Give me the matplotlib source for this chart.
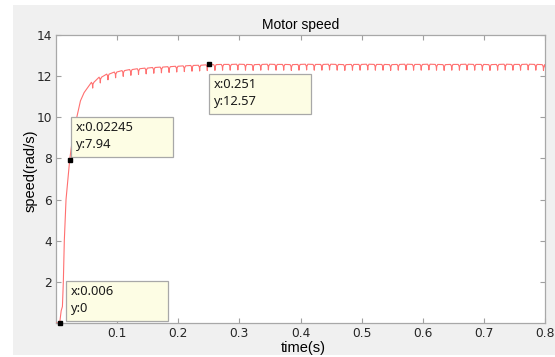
import matplotlib.pyplot as plt
from matplotlib.patches import Rectangle


# start-up part of the speed curve
rise_time = [0.0, 0.006, 0.0085, 0.0105, 0.012, 0.0136, 0.0164, 0.0195,
             0.02245, 0.028, 0.034, 0.040, 0.046, 0.052]
rise_speed = [0.0, 0.0, 0.6, 0.8, 2.0, 4.0, 6.0, 7.0,
              7.94, 9.2, 10.0, 10.8, 11.2, 11.45]

# torque ripple: time of each dip and the speed level around it
dip_time = [0.060, 0.0725, 0.085, 0.0975, 0.110, 0.1225, 0.135, 0.1475,
            0.160, 0.1725, 0.185, 0.1975, 0.210, 0.2225, 0.235, 0.2475,
            0.260, 0.2725, 0.285, 0.2975, 0.310, 0.3225, 0.335, 0.3475,
            0.360, 0.3725, 0.385, 0.3975, 0.410, 0.4225, 0.435, 0.4475,
            0.460, 0.4725, 0.485, 0.4975, 0.510, 0.5225, 0.535, 0.5475,
            0.560, 0.5725, 0.585, 0.5975, 0.610, 0.6225, 0.635, 0.6475,
            0.660, 0.6725, 0.685, 0.6975, 0.710, 0.7225, 0.735, 0.7475,
            0.760, 0.7725, 0.785, 0.7975]
dip_top = [11.70, 11.95, 12.10, 12.20, 12.27, 12.32, 12.36, 12.39,
           12.42, 12.44, 12.46, 12.48, 12.50, 12.52, 12.53, 12.55,
           12.56, 12.57, 12.57, 12.58, 12.57, 12.56, 12.57, 12.58,
           12.57, 12.57, 12.56, 12.57, 12.58, 12.57, 12.57, 12.58,
           12.57, 12.56, 12.57, 12.57, 12.58, 12.57, 12.57, 12.56,
           12.57, 12.58, 12.57, 12.57, 12.58, 12.57, 12.56, 12.57,
           12.57, 12.58, 12.57, 12.57, 12.56, 12.57, 12.58, 12.57,
           12.57, 12.58, 12.57, 12.56]
dip_depth = 0.28

end_time = 0.8
end_speed = 12.45

# data tips shown on the plot
tip_x = [0.006, 0.02245, 0.251]
tip_y = [0.0, 7.94, 12.57]
tip_labels = [("x:0.006", "y:0"), ("x:0.02245", "y:7.94"), ("x:0.251", "y:12.57")]

x_ticks = [0.1, 0.2, 0.3, 0.4, 0.5, 0.6, 0.7, 0.8]
y_ticks = [2, 4, 6, 8, 10, 12, 14]


def build_curve():
    t = list(rise_time)
    v = list(rise_speed)
    for td, top in zip(dip_time, dip_top):
        t += [td - 0.002, td - 0.0004, td, td + 0.0004, td + 0.002]
        v += [top, top - 0.1, top - dip_depth, top - 0.1, top]
    t.append(end_time)
    v.append(end_speed)
    return t, v


def draw_tips(ax):
    # lower-left corner of each tip box, data units
    box_x = [0.0164, 0.0245, 0.2504]
    box_y = [0.10, 8.07, 10.16]
    box_w = 0.167
    box_h = 1.92

    for bx, by, (line1, line2) in zip(box_x, box_y, tip_labels):
        ax.add_patch(Rectangle((bx, by), box_w, box_h, facecolor="#fdfde4",
                               edgecolor="#a8a8a8", linewidth=0.9, zorder=4))
        top = by + box_h
        ax.text(bx + 0.0075, top - 0.68, line1, fontsize=9.3, family="Noto Sans",
                va="baseline", ha="left", color="#1a1a1a", zorder=5)
        ax.text(bx + 0.0075, top - 1.47, line2, fontsize=9.3, family="Noto Sans",
                va="baseline", ha="left", color="#1a1a1a", zorder=5)

    ax.plot(tip_x, tip_y, linestyle="none", marker="s", markersize=3.2,
            color="black", zorder=6, clip_on=False)


def main():
    fig = plt.figure(figsize=(5.55, 3.57), dpi=100, facecolor="white")
    fig.patches.append(Rectangle((13 / 555, 2 / 357), 1 - 13 / 555, 350 / 357,
                                 transform=fig.transFigure, facecolor="#f0f0f0",
                                 edgecolor="none", zorder=-10))

    ax = fig.add_axes([56 / 555, 34 / 357, 489 / 555, 288 / 357])
    ax.set_facecolor("white")

    t, v = build_curve()
    ax.plot(t, v, color="#ff7070", linewidth=0.8, zorder=3)

    draw_tips(ax)

    ax.set_xlim(0, 0.8)
    ax.set_ylim(0, 14)
    ax.set_xticks(x_ticks)
    ax.set_yticks(y_ticks)
    ax.set_xticklabels([f"{x:g}" for x in x_ticks])
    ax.set_yticklabels([str(y) for y in y_ticks])

    ax.tick_params(direction="in", top=True, right=True, length=3.5,
                   width=0.8, color="#a0a0a0", labelcolor="#262626",
                   labelsize=8.8, pad=3)
    for label in ax.get_xticklabels() + ax.get_yticklabels():
        label.set_family("DejaVu Sans")
    for spine in ax.spines.values():
        spine.set_color("#a8a8a8")
        spine.set_linewidth(0.9)

    ax.set_title("Motor speed", fontsize=10, family="Liberation Sans", pad=4)
    ax.set_xlabel("time(s)", fontsize=10.5, family="Liberation Sans")
    ax.set_ylabel("speed(rad/s)", fontsize=10.5, family="Liberation Sans")
    ax.xaxis.set_label_coords(0.506, -0.063)
    ax.yaxis.set_label_coords(-0.037, 0.53)

    fig.savefig("out.png", dpi=100, facecolor=fig.get_facecolor())
    plt.close(fig)


if __name__ == "__main__":
    main()
